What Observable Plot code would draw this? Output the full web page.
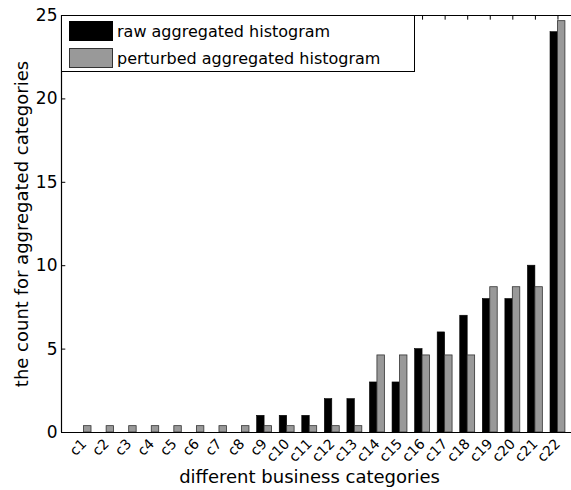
<!DOCTYPE html>
<html>
<head>
<meta charset="utf-8">
<script src="https://cdn.jsdelivr.net/npm/d3@7"></script>
<script src="https://cdn.jsdelivr.net/npm/@observablehq/plot@0.6"></script>
<style>
  body { margin: 0; background: #fff; font-family: "DejaVu Sans", sans-serif; }
  #wrap { position: relative; width: 571px; height: 490px; overflow: hidden; }
  #legend { position: absolute; left: 61px; top: 15px; width: 354px; height: 57px; border: 1px solid #000; background: #fff; box-sizing: border-box; }
  .item { position: absolute; left: 7px; display: flex; align-items: center; font-size: 16px; color: #000; }
  .sw { width: 44px; height: 20px; box-sizing: border-box; margin-right: 4px; }
  #xlabel { position: absolute; top: 466px; left: 0; width: 619px; text-align: center; font-size: 18px; line-height: 21px; color: #000; }
</style>
</head>
<body>
<div id="wrap">
  <div id="chart"></div>
  <div id="legend">
    <div class="item" style="top:5px"><div class="sw" style="background:#000"></div>raw aggregated histogram</div>
    <div class="item" style="top:32px"><div class="sw" style="background:#999;border:1px solid #333"></div>perturbed aggregated histogram</div>
  </div>
  <div id="xlabel">different business categories</div>
</div>
<script>
const categories = ["c1","c2","c3","c4","c5","c6","c7","c8","c9","c10","c11","c12","c13","c14","c15","c16","c17","c18","c19","c20","c21","c22"];
const rawValues = [0,0,0,0,0,0,0,0,1,1,1,2,2,3,3,5,6,7,8,8,10,24];
const perturbedValues = [0.38,0.38,0.38,0.38,0.38,0.38,0.38,0.38,0.38,0.38,0.38,0.38,0.38,4.62,4.62,4.62,4.62,4.62,8.71,8.71,8.71,24.66];
const yTicks = [0,5,10,15,20,25];
const yLabel = "the count for aggregated categories";

const barW = 0.33;
const pos = categories.map((c, i) => i + 1);
const raw = categories.map((c, i) => ({pos: i + 1, value: rawValues[i]}));
const pert = categories.map((c, i) => ({pos: i + 1, value: perturbedValues[i]}));

const chart = Plot.plot({
  width: 571,
  height: 490,
  marginLeft: 61,
  marginRight: 0,
  marginTop: 15,
  marginBottom: 58,
  style: {fontFamily: "DejaVu Sans", color: "#000", background: "#fff"},
  x: {type: "linear", domain: [0, 22.6], axis: null},
  y: {domain: [0, 25], axis: null},
  marks: [
    Plot.rectY(raw, {x1: d => d.pos - barW, x2: d => d.pos, y: "value", fill: "#000", stroke: "#000", strokeWidth: 0.6}),
    Plot.rectY(pert, {x1: d => d.pos, x2: d => d.pos + barW, y: "value", fill: "#999", stroke: "#333", strokeWidth: 0.8}),
    Plot.ruleY(yTicks, {y: d => d, x1: 0, x2: 0.19, stroke: "#000", strokeWidth: 1}),
    Plot.ruleX(pos, {x: d => d, y1: 25, y2: 24.72, stroke: "#000", strokeWidth: 1}),
    Plot.ruleX([0], {stroke: "#000", strokeWidth: 1.2}),
    Plot.ruleY([0, 25], {stroke: "#000", strokeWidth: 1.2}),
    Plot.axisY({ticks: yTicks, tickSize: 0, tickPadding: 4, fontSize: 17, label: null}),
    Plot.text([yLabel], {text: d => d, frameAnchor: "left", textAnchor: "middle", lineAnchor: "middle", rotate: -90, dx: -39, fontSize: 18, fill: "#000"}),
    Plot.axisX({ticks: pos, tickFormat: d => categories[d - 1], tickSize: 0, tickPadding: 9, tickRotate: -45, fontSize: 14, label: null})
  ]
});
document.getElementById("chart").appendChild(chart);
</script>
</body>
</html>
